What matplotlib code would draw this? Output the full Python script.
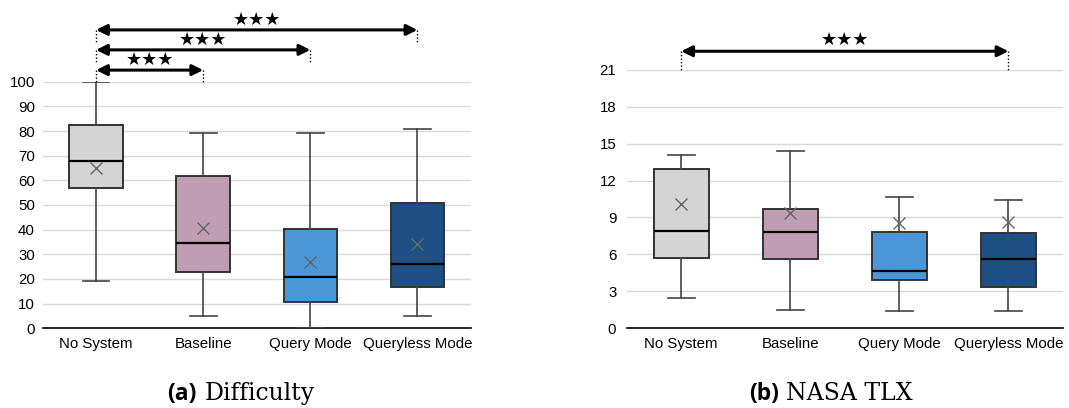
import matplotlib
matplotlib.use("Agg")
import matplotlib.pyplot as plt

categories = ["No System", "Baseline", "Query Mode", "Queryless Mode"]
colors = ["#d4d4d4", "#bf9db3", "#4a96d6", "#1f5084"]

# Difficulty
diff_whislo = [19, 5, 0, 5]
diff_q1 = [57, 23, 10.5, 16.7]
diff_med = [68, 34.5, 21, 26]
diff_q3 = [82.5, 61.7, 40.3, 51]
diff_whishi = [100, 79, 79, 81]
diff_mean = [65.2, 40.6, 26.7, 34]
diff_ticks = list(range(0, 101, 10))
diff_sig = [(0, 1, 104.7), (0, 2, 112.9), (0, 3, 121.0)]

# NASA TLX
tlx_whislo = [2.45, 1.45, 1.4, 1.4]
tlx_q1 = [5.7, 5.63, 3.9, 3.33]
tlx_med = [7.9, 7.8, 4.68, 5.66]
tlx_q3 = [12.95, 9.72, 7.85, 7.72]
tlx_whishi = [14.1, 14.38, 10.67, 10.45]
tlx_mean = [10.07, 9.34, 8.53, 8.66]
tlx_ticks = list(range(0, 22, 3))
tlx_sig = [(0, 3, 22.5)]

FONT = "Liberation Sans"

fig = plt.figure(figsize=(10.69, 4.08), dpi=100)
ax1 = fig.add_axes([42.5 / 1069, 79.7 / 408, 428.5 / 1069, 246.6 / 408])
ax2 = fig.add_axes([626.7 / 1069, 79.7 / 408, 436.3 / 1069, 258.6 / 408])


def draw(ax, lo, q1, med, q3, hi, mean, ticks, ymax, sig, drop, star_off, ypad):
    stats = []
    for i in range(len(categories)):
        stats.append(dict(whislo=lo[i], q1=q1[i], med=med[i], q3=q3[i],
                          whishi=hi[i], mean=mean[i], fliers=[]))
    bp = ax.bxp(stats, positions=range(len(categories)), widths=0.5,
                patch_artist=True, showmeans=True,
                boxprops=dict(edgecolor="#333333", linewidth=1.4),
                whiskerprops=dict(color="#444444", linewidth=1.2),
                capprops=dict(color="#444444", linewidth=1.2),
                medianprops=dict(color="black", linewidth=1.6),
                meanprops=dict(marker="x", markeredgecolor="#666666",
                               markersize=8, markeredgewidth=1.0),
                capwidths=0.25, zorder=3)
    for patch, c in zip(bp["boxes"], colors):
        patch.set_facecolor(c)
    ax.set_xlim(-0.5, len(categories) - 0.5)
    ax.set_ylim(0, ymax)
    ax.set_yticks(ticks)
    ax.set_yticklabels([str(t) for t in ticks], fontname=FONT, fontsize=10.8)
    ax.set_xticks(range(len(categories)))
    ax.set_xticklabels(categories, fontname=FONT, fontsize=10.8)
    ax.tick_params(length=0, pad=6)
    ax.tick_params(axis="y", pad=ypad)
    for s in ["top", "left", "right"]:
        ax.spines[s].set_visible(False)
    ax.spines["bottom"].set_linewidth(1.2)
    ax.spines["bottom"].set_color("black")
    ax.yaxis.grid(True, color="#d9d9d9", linewidth=1.0)
    ax.set_axisbelow(True)
    for a, b, y in sig:
        ax.annotate("", xy=(b, y), xytext=(a, y),
                    arrowprops=dict(arrowstyle="<|-|>", color="black",
                                    lw=2.2, mutation_scale=16,
                                    shrinkA=0, shrinkB=0),
                    annotation_clip=False)
        for x in (a, b):
            ax.plot([x, x], [y, y - drop], color="black", lw=1.0,
                    linestyle=(0, (1, 1.5)), clip_on=False)
        ax.text((a + b) / 2, y + star_off, "★★★", ha="center", va="center",
                fontsize=13, family="DejaVu Sans", clip_on=False)


draw(ax1, diff_whislo, diff_q1, diff_med, diff_q3, diff_whishi, diff_mean,
     diff_ticks, 100, diff_sig, 4.9, 4.2, 5.5)
draw(ax2, tlx_whislo, tlx_q1, tlx_med, tlx_q3, tlx_whishi, tlx_mean,
     tlx_ticks, 21, tlx_sig, 1.5, 0.95, 7.5)


def caption(x_label_right, x_title_left, label, title):
    y = 8 / 408
    fig.text(x_label_right / 1069, y, label, ha="right", va="baseline",
             fontsize=16.5, fontweight="bold", family="Open Sans")
    fig.text(x_title_left / 1069, y, title, ha="left", va="baseline",
             fontsize=17, family="DejaVu Serif")


caption(196, 205, "(a)", "Difficulty")
caption(779, 786, "(b)", "NASA TLX")

fig.savefig("out.png", dpi=100)
